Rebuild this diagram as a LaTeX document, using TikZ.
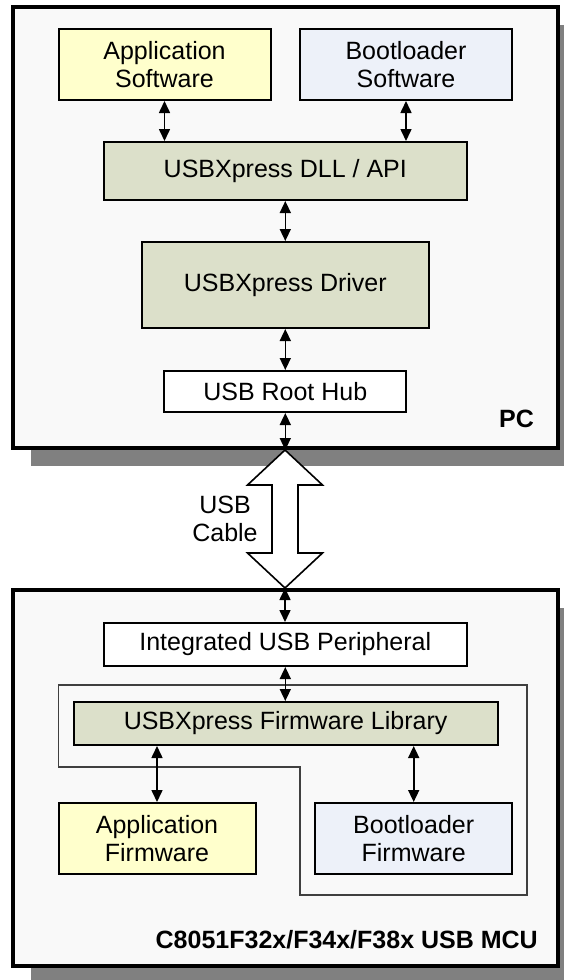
\documentclass[tikz,border=0pt]{standalone}
\usepackage{fontspec}
\setmainfont{Liberation Sans}
\usetikzlibrary{arrows.meta,shadows,calc}
\definecolor{bgc}{HTML}{F9F9F9}
\definecolor{shadowc}{HTML}{808080}
\definecolor{appc}{HTML}{FFFFCC}
\definecolor{bootc}{HTML}{EDF1F9}
\definecolor{libc}{HTML}{DCE0CA}
\definecolor{outc}{HTML}{404040}
\begin{document}
\begin{tikzpicture}[x=1pt,y=-1pt,
  box/.style={draw=black, line width=2pt, align=center, inner sep=0pt, font=\fontsize{25}{28.5}\selectfont},
  big/.style={draw=black, line width=4pt, fill=bgc, inner sep=0pt,
    drop shadow={shadow xshift=18pt, shadow yshift=-18pt, fill=shadowc, opacity=1}},
  conn/.style={{Triangle[length=12pt,width=11pt]}-{Triangle[length=12pt,width=11pt]}, line width=1.6pt},
  lbl/.style={font=\bfseries\fontsize{25}{28}\selectfont, inner sep=0pt},
  txt/.style={align=center, inner sep=0pt, font=\fontsize{25}{28.5}\selectfont}]
\useasboundingbox (0,0) rectangle (564,980);
\fill[white] (0,0) rectangle (564,980);
% big boxes
\node[big, minimum width=545pt, minimum height=441pt] (pc) at (285,227.5) {};
\node[big, minimum width=545pt, minimum height=376pt] (mcu) at (285,778) {};
% PC side
\node[box, fill=appc, minimum width=212pt, minimum height=71pt] (appsw) at (164.5,64.5) {Application\\Software};
\node[box, fill=bootc, minimum width=212pt, minimum height=71pt] (bootsw) at (406,64.5) {Bootloader\\Software};
\node[box, fill=libc, minimum width=363pt, minimum height=58pt] (dll) at (285.3,171) {USBXpress DLL / API};
\node[box, fill=libc, minimum width=287pt, minimum height=86pt] (drv) at (285.3,285) {USBXpress Driver};
\node[box, fill=white, minimum width=242pt, minimum height=41pt] (hub) at (285.3,391.5) {USB Root Hub};
\node[lbl, anchor=base east] (pclbl) at (534,427) {PC};
% cable
\draw[fill=white, line width=1.6pt] (pc.south) -- ++(37.5,35) -- ++(-24.5,0)
  -- ($(mcu.north)+(13,-35)$) -- ++(24.5,0) -- (mcu.north) -- ++(-37.5,-35) -- ++(24.5,0)
  -- ($(pc.south)+(-13,35)$) -- ++(-24.5,0) -- cycle;
\node[txt] (cable) at (225,519) {USB\\Cable};
% MCU side
\node[box, fill=white, minimum width=363pt, minimum height=43pt] (iusb) at (285.3,644.5) {Integrated USB Peripheral};
\draw[draw=outc, line width=1.2pt] (58.6,685) -- (527,685) -- (527,895) -- (300,895) -- (300,767) -- (58.6,767) -- cycle;
\node[box, fill=libc, minimum width=424pt, minimum height=43pt] (fwlib) at (285.6,723.5) {USBXpress Firmware Library};
\node[box, fill=appc, minimum width=197pt, minimum height=71pt] (appfw) at (157,838.5) {Application\\Firmware};
\node[box, fill=bootc, minimum width=196.5pt, minimum height=71pt] (bootfw) at (413.7,838.5) {Bootloader\\Firmware};
\node[lbl, anchor=base east] (mculbl) at (538,948) {C8051F32x/F34x/F38x USB MCU};
% connectors
\draw[conn] (appsw.south) -- (appsw.south |- dll.north);
\draw[conn] (bootsw.south) -- (bootsw.south |- dll.north);
\draw[conn] (dll.south) -- (dll.south |- drv.north);
\draw[conn] (drv.south) -- (drv.south |- hub.north);
\draw[conn] (hub.south) -- (hub.south |- pc.south);
\draw[conn] (mcu.north) -- (mcu.north |- iusb.north);
\draw[conn] (iusb.south) -- (iusb.south |- fwlib.north);
\draw[conn] (appfw.north |- fwlib.south) -- (appfw.north);
\draw[conn] (bootfw.north |- fwlib.south) -- (bootfw.north);
\end{tikzpicture}
\end{document}
